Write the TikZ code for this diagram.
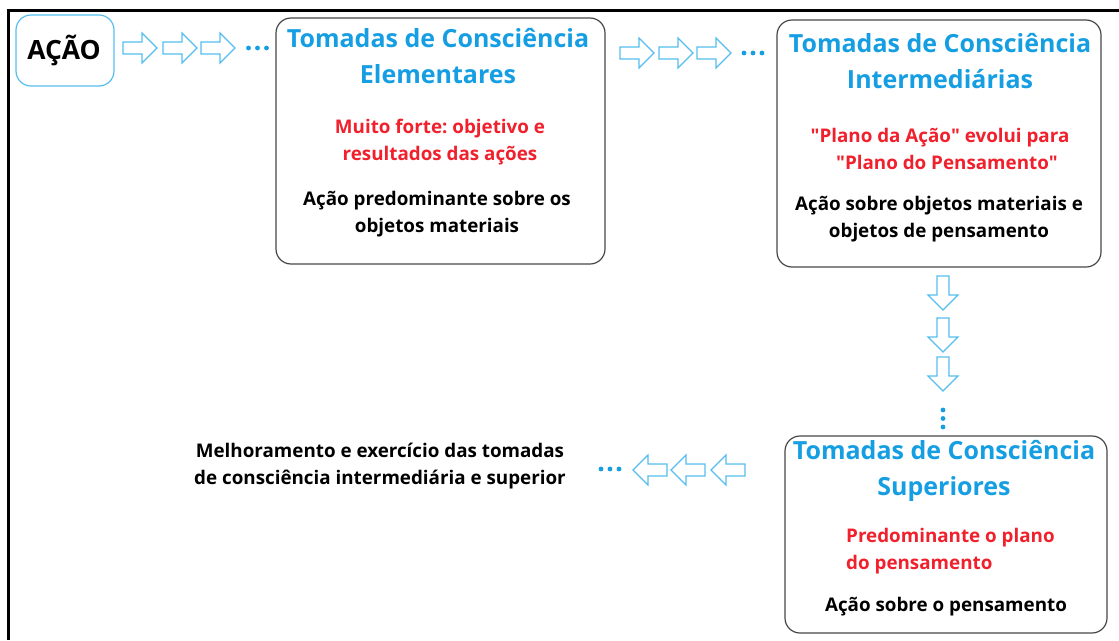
\documentclass[tikz,border=0pt]{standalone}
\usepackage{fontspec}
\setmainfont{Open Sans}
\frenchspacing
\definecolor{ttlblue}{RGB}{22,158,226}
\definecolor{arrblue}{RGB}{85,190,238}
\definecolor{txtred}{RGB}{240,32,44}
\definecolor{boxgray}{RGB}{70,70,70}
\tikzset{
  stagebox/.style={draw=boxgray,line width=1.2pt,rounded corners=15pt,inner sep=0pt},
  actbox/.style={draw=arrblue,line width=1.2pt,rounded corners=15pt,inner sep=0pt},
  ttl/.style={font=\fontsize{25}{36}\selectfont\bfseries,text=ttlblue,align=center,inner sep=0pt},
  redtxt/.style={font=\fontsize{18.8}{27}\selectfont\bfseries,text=txtred,align=center,inner sep=0pt},
  blktxt/.style={font=\fontsize{18.8}{27}\selectfont\bfseries,text=black,align=center,inner sep=0pt},
  arrowline/.style={draw=arrblue,line width=1.1pt,fill=white,line join=miter},
  dotfill/.style={fill=ttlblue,draw=none},
  blockarrow/.pic={\path[arrowline] (0,-6) -- (19,-6) -- (19,-15) -- (34,0) -- (19,15) -- (19,6) -- (0,6) -- cycle;}
}
\begin{document}
\begin{tikzpicture}[x=1pt,y=-1pt]
\useasboundingbox (0,0) rectangle (1119,640);
% frame
\draw[line width=3.2pt] (8.4,640) -- (8.4,10.5) -- (1119,10.5);
% boxes
\node[actbox,minimum width=98pt,minimum height=71pt] (act) at (65,50.5) {};
\node[font=\fontsize{26.5}{30}\selectfont\bfseries,inner sep=0pt] (acttxt) at (64,50) {AÇÃO};
\node[stagebox,minimum width=329pt,minimum height=246pt] (b1) at (440.5,141) {};
\node[stagebox,minimum width=324pt,minimum height=247pt] (b2) at (939,143.5) {};
\node[stagebox,minimum width=322pt,minimum height=197pt] (b3) at (946,534.5) {};
% box 1 texts
\node[ttl] (t1) at (438,56) {Tomadas de Consciência\\Elementares};
\node[redtxt] (r1) at (440,142) {Muito forte: objetivo e\\resultados das ações};
\node[blktxt] (k1) at (437,214) {Ação predominante sobre os\\objetos materiais};
% box 2 texts
\node[ttl] (t2) at (940,61.5) {Tomadas de Consciência\\Intermediárias};
\node[redtxt] (r2) at (940,149) {\textquotedbl Plano da Ação\textquotedbl{} evolui para\\\hspace*{14pt}\textquotedbl Plano do Pensamento\textquotedbl};
\node[blktxt] (k2) at (939,219) {Ação sobre objetos materiais e\\objetos de pensamento};
% box 3 texts
\node[ttl] (t3) at (944,470.5) {Tomadas de Consciência\\Superiores};
\node[redtxt,align=left,anchor=west] (r3) at (846,551) {Predominante o plano\\do pensamento};
\node[blktxt] (k3) at (946,607) {Ação sobre o pensamento};
% left text
\node[blktxt] (lt) at (380,466) {Melhoramento e exercício das tomadas\\de consciência intermediária e superior};
% arrows row 1
\pic at (123,48) {blockarrow};
\pic at (163,48) {blockarrow};
\pic at (201,48) {blockarrow};
\foreach \x in {248.5,257.5,266.5} \path[dotfill] (\x,48) circle (2.4pt);
% arrows row 2
\pic at (620,53) {blockarrow};
\pic at (659,53) {blockarrow};
\pic at (697,53) {blockarrow};
\foreach \x in {744,753,762} \path[dotfill] (\x,53) circle (2.4pt);
% down arrows
\pic[rotate=-90] at (943,276) {blockarrow};
\pic[rotate=-90] at (943,318) {blockarrow};
\pic[rotate=-90] at (943,357) {blockarrow};
\foreach \y in {410,418.5,427} \path[dotfill] (943,\y) circle (2.4pt);
% left arrows
\pic[rotate=180] at (667,470) {blockarrow};
\pic[rotate=180] at (705,470) {blockarrow};
\pic[rotate=180] at (745,470) {blockarrow};
\foreach \x in {601,610,619} \path[dotfill] (\x,469) circle (2.4pt);
\end{tikzpicture}
\end{document}
